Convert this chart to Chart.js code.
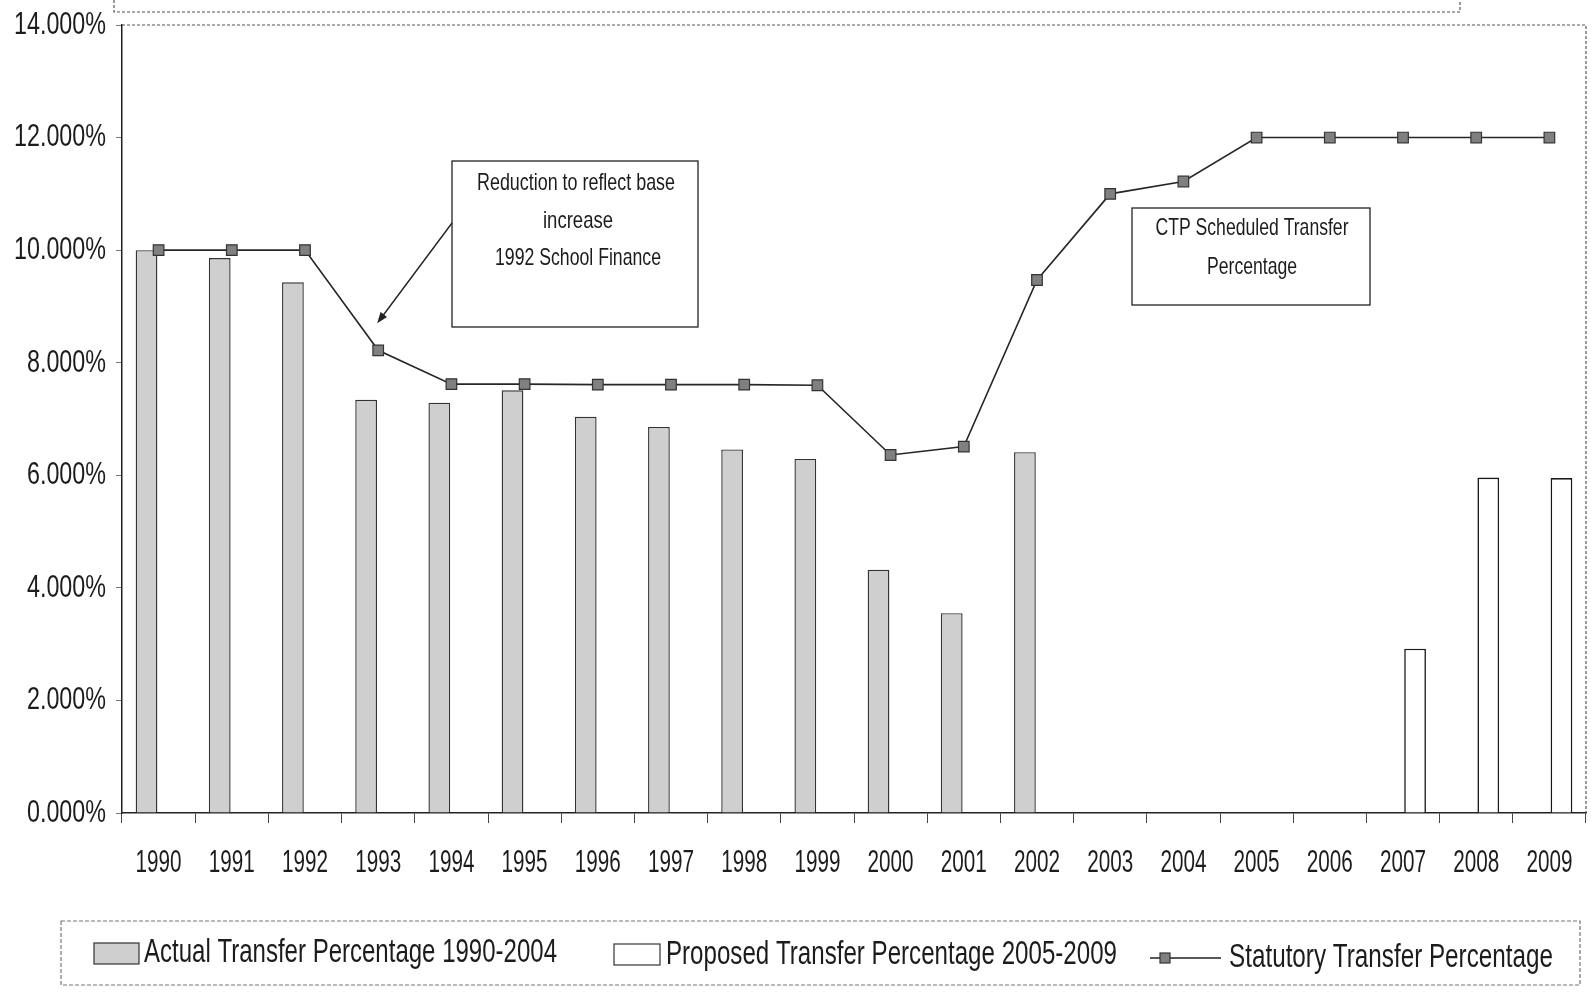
<!DOCTYPE html>
<html>
<head>
<meta charset="utf-8">
<script src="https://cdn.jsdelivr.net/npm/chart.js@4.4.1/dist/chart.umd.min.js"></script>
<style>
  html, body { margin: 0; padding: 0; background: #ffffff; }
  #wrap { width: 1595px; height: 997px; position: relative; }
</style>
</head>
<body>
<div id="wrap"><canvas id="c" width="1595" height="997"></canvas></div>
<script>
// Transfer percentages by year (percent)
const years = ['1990','1991','1992','1993','1994','1995','1996','1997','1998','1999',
               '2000','2001','2002','2003','2004','2005','2006','2007','2008','2009'];

const actualTransfer = [10.0, 9.86, 9.43, 7.34, 7.29, 7.51, 7.04, 6.86, 6.46, 6.29,
                        4.32, 3.55, 6.41, null, null, null, null, null, null, null];

const proposedTransfer = [null, null, null, null, null, null, null, null, null, null,
                          null, null, null, null, null, null, null, 2.92, 5.96, 5.95];

const statutoryTransfer = [10.0, 10.0, 10.0, 8.22, 7.62, 7.62, 7.61, 7.61, 7.61, 7.60,
                           6.36, 6.51, 9.47, 11.0, 11.22, 12.0, 12.0, 12.0, 12.0, 12.0];

const yTicks = { min: 0, max: 14, step: 2 };

const seriesNames = {
  actual: 'Actual Transfer Percentage 1990-2004',
  proposed: 'Proposed Transfer Percentage 2005-2009',
  statutory: 'Statutory Transfer Percentage'
};

const noteBase = ['Reduction to reflect base', 'increase', '1992 School Finance'];
const noteCtp = ['CTP Scheduled Transfer', 'Percentage'];

const FONT = "'Liberation Sans', Arial, sans-serif";
const INK = '#1c1c1c';
const ACTUAL_FILL = '#cfcfcf';
const MARKER_FILL = '#808080';

// text in a tall, narrow face: horizontal squeeze either from a factor or a target width
function putText(ctx, text, x, y, size, opts) {
  ctx.save();
  ctx.font = size + 'px ' + FONT;
  ctx.fillStyle = INK;
  let s = 1;
  if (opts.width) s = opts.width / ctx.measureText(text).width;
  if (opts.scale) s = opts.scale;
  ctx.translate(x, y);
  ctx.scale(s, 1);
  ctx.textAlign = opts.align || 'left';
  ctx.textBaseline = 'middle';
  ctx.fillText(text, 0, 0);
  ctx.restore();
}

function squeezeFor(ctx, sample, size, width) {
  ctx.save();
  ctx.font = size + 'px ' + FONT;
  const s = width / ctx.measureText(sample).width;
  ctx.restore();
  return s;
}

function squareMarker(ctx, cx, cy, r) {
  ctx.save();
  ctx.fillStyle = MARKER_FILL;
  ctx.strokeStyle = '#333';
  ctx.lineWidth = 1.2;
  ctx.fillRect(cx - r, cy - r, 2 * r, 2 * r);
  ctx.strokeRect(cx - r, cy - r, 2 * r, 2 * r);
  ctx.restore();
}

// axis labels, taken from the scales' own ticks
const axisLabels = {
  id: 'axisLabels',
  afterDraw(chart) {
    const ctx = chart.ctx;
    const xs = chart.scales.x, ys = chart.scales.y;
    const a = chart.chartArea;
    const sx = squeezeFor(ctx, '1990', 32, 46);
    xs.ticks.forEach((t, i) => {
      putText(ctx, xs.getLabelForValue(t.value), xs.getPixelForTick(i), a.bottom + 50, 32, { scale: sx, align: 'center' });
    });
    const sy = squeezeFor(ctx, '14.000%', 32, 92);
    ys.ticks.forEach((t, i) => {
      putText(ctx, t.label, a.left - 16, ys.getPixelForTick(i), 32, { scale: sy, align: 'right' });
    });
  }
};

const decorations = {
  id: 'decorations',
  afterDraw(chart) {
    const ctx = chart.ctx;
    const a = chart.chartArea;
    const xs = chart.scales.x, ys = chart.scales.y;

    // plot frame (top and right edges)
    ctx.save();
    ctx.strokeStyle = '#555';
    ctx.lineWidth = 1.2;
    ctx.setLineDash([3, 2]);
    ctx.beginPath();
    ctx.moveTo(a.left, a.top);
    ctx.lineTo(a.right, a.top);
    ctx.lineTo(a.right, a.bottom);
    ctx.stroke();

    // lower edge of the title frame above the plot
    ctx.beginPath();
    ctx.moveTo(114, 0);
    ctx.lineTo(114, 12);
    ctx.lineTo(1460, 12);
    ctx.lineTo(1460, 0);
    ctx.stroke();
    ctx.restore();

    // note: base reduction
    ctx.save();
    ctx.strokeStyle = '#222';
    ctx.lineWidth = 1.3;
    ctx.strokeRect(452, 161, 246, 166);
    ctx.restore();
    putText(ctx, noteBase[0], 576, 183, 24, { width: 198, align: 'center' });
    putText(ctx, noteBase[1], 578, 221, 24, { width: 70, align: 'center' });
    putText(ctx, noteBase[2], 578, 258, 24, { width: 166, align: 'center' });

    // arrow to the 1993 point
    const tx = xs.getPixelForValue(3) - 1;
    const ty = ys.getPixelForValue(statutoryTransfer[3]) - 27;
    const sx = 452, sy = 223;
    const ang = Math.atan2(ty - sy, tx - sx);
    ctx.save();
    ctx.strokeStyle = '#222';
    ctx.fillStyle = '#222';
    ctx.lineWidth = 1.4;
    ctx.beginPath();
    ctx.moveTo(sx, sy);
    ctx.lineTo(tx - 6 * Math.cos(ang), ty - 6 * Math.sin(ang));
    ctx.stroke();
    ctx.beginPath();
    ctx.moveTo(tx, ty);
    ctx.lineTo(tx - 11 * Math.cos(ang) + 4 * Math.sin(ang), ty - 11 * Math.sin(ang) - 4 * Math.cos(ang));
    ctx.lineTo(tx - 11 * Math.cos(ang) - 4 * Math.sin(ang), ty - 11 * Math.sin(ang) + 4 * Math.cos(ang));
    ctx.closePath();
    ctx.fill();
    ctx.restore();

    // note: CTP schedule
    ctx.save();
    ctx.strokeStyle = '#222';
    ctx.lineWidth = 1.3;
    ctx.strokeRect(1132, 208, 238, 97);
    ctx.restore();
    putText(ctx, noteCtp[0], 1252, 228, 24, { width: 193, align: 'center' });
    putText(ctx, noteCtp[1], 1252, 267, 24, { width: 90, align: 'center' });

    // legend
    ctx.save();
    ctx.strokeStyle = '#777';
    ctx.lineWidth = 1.2;
    ctx.setLineDash([4, 2]);
    ctx.strokeRect(61, 921, 1519, 64);
    ctx.setLineDash([]);
    ctx.fillStyle = ACTUAL_FILL;
    ctx.fillRect(94, 943, 45, 21);
    ctx.strokeStyle = '#333';
    ctx.lineWidth = 1.2;
    ctx.strokeRect(94, 943, 45, 21);
    ctx.fillStyle = '#fff';
    ctx.fillRect(614, 944, 46, 21);
    ctx.strokeRect(614, 944, 46, 21);
    ctx.strokeStyle = '#222';
    ctx.lineWidth = 1.6;
    ctx.beginPath();
    ctx.moveTo(1150, 958);
    ctx.lineTo(1221, 958);
    ctx.stroke();
    ctx.restore();
    squareMarker(ctx, 1165, 958, 5);
    putText(ctx, seriesNames.actual, 144, 953, 33, { width: 413 });
    putText(ctx, seriesNames.proposed, 666, 955, 33, { width: 451 });
    putText(ctx, seriesNames.statutory, 1229, 958, 33, { width: 324 });
  }
};

new Chart(document.getElementById('c'), {
  type: 'bar',
  data: {
    labels: years,
    datasets: [
      {
        type: 'line',
        label: seriesNames.statutory,
        data: statutoryTransfer,
        borderColor: '#262626',
        borderWidth: 1.6,
        tension: 0,
        fill: false,
        pointStyle: 'rect',
        pointRadius: 7.5,
        pointBackgroundColor: MARKER_FILL,
        pointBorderColor: '#333',
        pointBorderWidth: 1.2,
        order: 0
      },
      {
        label: seriesNames.actual,
        data: actualTransfer,
        backgroundColor: ACTUAL_FILL,
        borderColor: '#333',
        borderWidth: 1.4,
        barPercentage: 0.9,
        categoryPercentage: 0.66,
        order: 1
      },
      {
        label: seriesNames.proposed,
        data: proposedTransfer,
        backgroundColor: '#ffffff',
        borderColor: '#1a1a1a',
        borderWidth: 1.6,
        barPercentage: 0.9,
        categoryPercentage: 0.66,
        order: 1
      }
    ]
  },
  options: {
    responsive: false,
    animation: false,
    devicePixelRatio: 1,
    layout: { padding: { top: 25, right: 9, bottom: 114, left: 0 } },
    plugins: {
      legend: { display: false },
      tooltip: { enabled: false }
    },
    scales: {
      x: {
        offset: true,
        grid: { display: true, drawOnChartArea: false, drawTicks: true, tickLength: 10, color: '#444', lineWidth: 1, offset: true },
        border: { display: true, color: '#222', width: 1.5 },
        ticks: { display: false, autoSkip: false, maxRotation: 0 },
        afterFit(s) { s.height = 70; }
      },
      y: {
        min: yTicks.min,
        max: yTicks.max,
        grid: { display: true, drawOnChartArea: false, drawTicks: true, tickLength: 6, color: '#777' },
        border: { display: true, color: '#222', width: 1.5 },
        ticks: {
          display: false,
          stepSize: yTicks.step,
          callback: v => v.toFixed(3) + '%'
        },
        afterFit(s) { s.width = 122; }
      }
    }
  },
  plugins: [axisLabels, decorations]
});
</script>
</body>
</html>
